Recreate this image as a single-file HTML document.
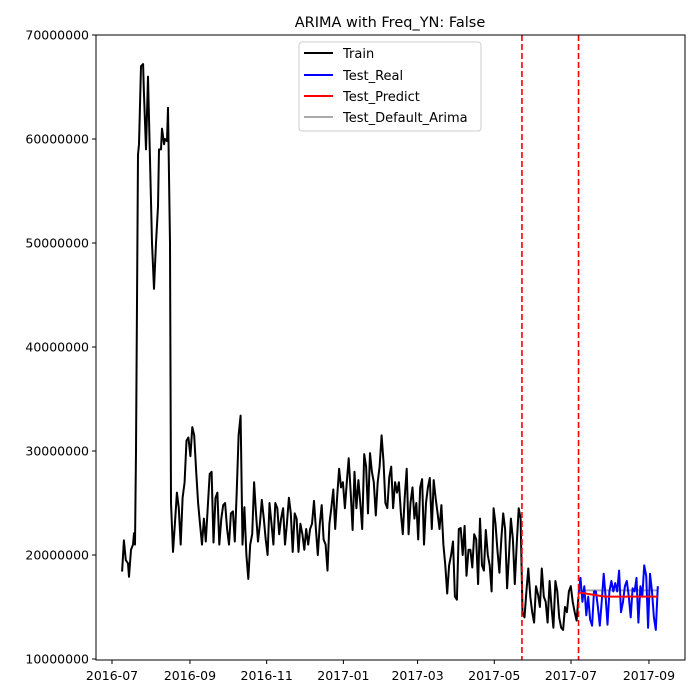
<!DOCTYPE html>
<html><head><meta charset="utf-8"><style>
body{margin:0;background:#fff}
svg{display:block;font-family:"DejaVu Sans","Liberation Sans",sans-serif}
</style></head><body>
<svg id="chart" width="700" height="700">
<rect width="700" height="700" fill="#fff"/>
<text x="390" y="27" text-anchor="middle" font-size="14.5">ARIMA with Freq_YN: False</text>
<g id="plot"></g>
<rect x="96" y="35" width="589" height="625" fill="none" stroke="#000" stroke-width="1"/>
<g id="xaxis"></g>
<g id="yaxis"></g>
<g>
<rect x="299" y="42" width="182" height="89" rx="3" fill="#fff" fill-opacity="0.8" stroke="#ccc"/>
<g><line x1="304" y1="53" x2="333" y2="53" stroke="#000" stroke-width="2"/><text x="343" y="58" font-size="13">Train</text></g>
<g><line x1="304" y1="75" x2="333" y2="75" stroke="#00f" stroke-width="2"/><text x="343" y="80" font-size="13">Test_Real</text></g>
<g><line x1="304" y1="96" x2="333" y2="96" stroke="#f00" stroke-width="2"/><text x="343" y="101" font-size="13">Test_Predict</text></g>
<g><line x1="304" y1="117" x2="333" y2="117" stroke="#aaa" stroke-width="2"/><text x="343" y="122" font-size="13">Test_Default_Arima</text></g>
</g>
</svg>
<script>
// day offsets from 2016-07-01
const spikeDays=[8,9.5,11,12.7,13.5,15.1,16.7,17.5,18.3,19.1,20.7,21.5,23.1,24.7,25.4,27,28.6,30.2,31.8,33.4,35,36.6,37.4,39,39.8,41.4,42.1,43.7,44.5,46.1,46.9];
const spikeVals=[18.4,21.4,19.5,19.2,17.9,20.5,21,22.1,21,30,58.5,59.5,67,67.2,64.5,59,66,58,50,45.6,50,53.5,59,59,61,59.5,60,59.8,63,50,25];
const trainStartDay=48.5, trainEndDay=371;
const trainVals=[20.3,23,26,24.5,21,25.5,27,31,31.3,29.5,32.3,31.5,28,25,23,21,23.5,21.3,24.5,27.8,28,21.2,25.5,26,21,23.5,24.8,25,22.5,21,24,24.2,21.3,26,31.5,33.4,21,24.6,20,17.7,21,22,27,24,21.3,23,25.3,23.5,21.5,20,25,23,21,25,24.5,22,23.5,24.5,21,23,25.5,24,20.3,24,23.5,20.3,23,22,20.5,22.5,21,22.5,23,25.2,22.5,20,23,24.8,21.5,21,18.5,23,24.5,26.3,22.5,25.5,28.3,26.5,27,24.5,27,29.3,26,22.4,28,24.5,27.2,25,22.5,29.7,28.5,24,29.8,28,27,23.8,27,28.5,31.5,29,25,24.5,27.5,28.5,24.5,27,26,27,24,22,25.5,28.3,22,25,26.5,23.5,25,21.5,26.5,27.3,21,25,26.5,27.4,22.5,27.2,25.5,24,22.5,24.8,21,19,16.3,19,20,21.3,16,15.7,22.5,22.6,20,22.8,18,20.5,20.5,18.8,22,21.5,17.2,23.5,19,18.5,22.4,20,19,16.5,24.5,23,20.5,18.3,21.5,24,22.5,16.8,20,23.5,21.5,17.2,21,24.5,23.5,14.5,14,16.5,18.7,16,14.5,13.5,17,16.2,15,18.7,16,15.5,13.5,17.5,15,13,17.5,16.5,14,13,12.8,15,14.5,16.5,17,15.5,14.5,13.7,16];
const testStartDay=371, testEndDay=434;
const testReal=[16.2,17.8,15.5,17,14.2,16,13.8,13.2,16.5,16.5,15,13.2,15.5,18.2,16,13.3,16.5,17.5,16.5,17.3,16.5,18.5,14.5,15.5,17,17.5,16,14,16.8,16.5,17.8,13.5,17,16,19,18,13,18.2,16.5,14,12.8,17];
const testPredict=[16.4,16.0,16.0,16.0];
const defaultArima=16.6;
const splitDays=[326,371];
const yTicks=[10,20,30,40,50,60,70];
const xTickDays=[0,62,123,184,243,304,365,427];
const xTickLabels=["2016-07","2016-09","2016-11","2017-01","2017-03","2017-05","2017-07","2017-09"];

const NS="http://www.w3.org/2000/svg";
const X=d=>112+d*1.2575;
const Y=v=>659-(v-10)*10.4;
function mk(tag,attrs,parent){const e=document.createElementNS(NS,tag);for(const k in attrs)e.setAttribute(k,attrs[k]);parent.appendChild(e);return e;}
const plot=document.getElementById('plot');
function poly(pts,color,name){
  const p=mk('polyline',{points:pts.map(q=>X(q[0]).toFixed(1)+','+Y(q[1]).toFixed(1)).join(' '),fill:'none',stroke:color,'stroke-width':2,'stroke-linejoin':'round'},plot);
  
  
}
const trainPts=spikeDays.map((d,i)=>[d,spikeVals[i]]);
const n=trainVals.length;
trainVals.forEach((v,i)=>trainPts.push([trainStartDay+(trainEndDay-trainStartDay)*i/(n-1),v]));
poly(trainPts,'#000','train-line');
const tp=testPredict.map((v,i)=>[testStartDay+(testEndDay-testStartDay)*i/(testPredict.length-1),v]);
const td=[[testStartDay,defaultArima],[testEndDay,defaultArima]];
poly(td,'#aaa','test-default-arima-line');
const tr=testReal.map((v,i)=>[testStartDay+(testEndDay-testStartDay)*i/(testReal.length-1),v]);
poly(tr,'#00f','test-real-line');
poly(tp,'#f00','test-predict-line');
splitDays.forEach((d,i)=>{
  const l=mk('line',{x1:X(d),x2:X(d),y1:35,y2:660,stroke:'#f00','stroke-width':1.6,'stroke-dasharray':'6,3'},plot);
  
  
});
const ya=document.getElementById('yaxis');
yTicks.forEach(v=>{
  mk('line',{x1:92,x2:96,y1:Y(v),y2:Y(v),stroke:'#000'},ya);
  const t=mk('text',{x:89,y:Y(v)+4.5,'text-anchor':'end','font-size':12.5},ya);
  t.textContent=String(v*1000000);
  
  
});
const xa=document.getElementById('xaxis');
xTickDays.forEach((d,i)=>{
  mk('line',{x1:X(d),x2:X(d),y1:660,y2:664,stroke:'#000'},xa);
  const t=mk('text',{x:X(d),y:680,'text-anchor':'middle','font-size':12.5},xa);
  t.textContent=xTickLabels[i];
  
  
});
</script>
</body></html>
